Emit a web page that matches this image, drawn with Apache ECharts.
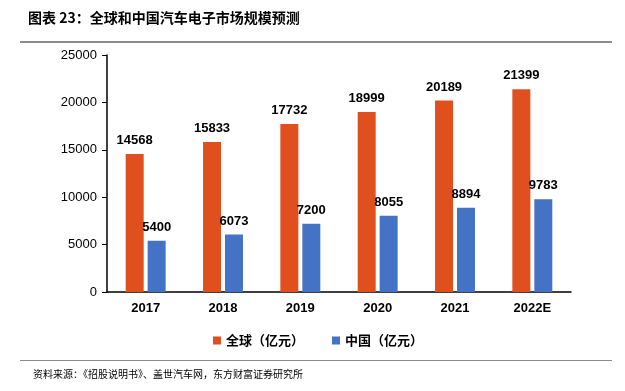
<!DOCTYPE html>
<html><head><meta charset="utf-8">
<script src="https://cdn.jsdelivr.net/npm/echarts@6/dist/echarts.min.js"></script>
<style>html,body{margin:0;padding:0;background:#fff}#c{width:625px;height:391px}</style>
</head><body><div id="c"></div>
<script>
const categories = ['2017','2018','2019','2020','2021','2022E'];
const globalVals = [14568,15833,17732,18999,20189,21399];
const chinaVals = [5400,6073,7200,8055,8894,9783];
const seriesNames = ['全球（亿元）','中国（亿元）'];
const titleText = '图表 23：全球和中国汽车电子市场规模预测';
const sourceText = '资料来源：《招股说明书》、盖世汽车网，东方财富证券研究所';

const chart = echarts.init(document.getElementById('c'), null, {renderer:'canvas'});
const cjk = '"Noto Sans CJK SC", sans-serif';
const lat = 'Arial, "Liberation Sans", sans-serif';
chart.setOption({
  animation:false,
  graphic:[
    {type:'text', left:28, top:11, style:{text:titleText, font:'bold 14px '+cjk, fill:'#000'}},
    {type:'rect', shape:{x:20,y:41,width:592,height:2}, style:{fill:'#8c8c8c'}},
    {type:'rect', shape:{x:20,y:360,width:592,height:1}, style:{fill:'#8c8c8c'}},
    {type:'text', left:33, top:369, style:{text:sourceText, font:'10px '+cjk, fill:'#000'}}
  ],
  legend:{
    data:seriesNames, top:329, left:208, itemWidth:8, itemHeight:8, itemGap:28,
    icon:'rect', textStyle:{fontFamily:cjk, fontSize:13, fontWeight:'bold', color:'#000'}
  },
  grid:{left:107, right:54, top:55, bottom:99, containLabel:false},
  xAxis:{
    type:'category', data:categories,
    axisLine:{lineStyle:{color:'#000', width:1.5}},
    axisTick:{show:false},
    axisLabel:{color:'#000', fontFamily:lat, fontSize:13, fontWeight:'bold', margin:10}
  },
  yAxis:{
    type:'value', min:0, max:25000, interval:5000,
    axisLine:{show:true, lineStyle:{color:'#000', width:1.5}},
    axisTick:{show:true, length:5, lineStyle:{color:'#000'}},
    splitLine:{show:false},
    axisLabel:{color:'#000', fontFamily:lat, fontSize:13, margin:10, formatter:function(v){return String(v);}}
  },
  series:[
    {name:seriesNames[0], type:'bar', data:globalVals, barWidth:18, barGap:'22%',
     itemStyle:{color:'#E0501F'},
     label:{show:true, position:'top', distance:7, color:'#000', fontFamily:lat, fontSize:13, fontWeight:'bold'}},
    {name:seriesNames[1], type:'bar', data:chinaVals, barWidth:18,
     itemStyle:{color:'#4472C4'},
     label:{show:true, position:'top', distance:7, color:'#000', fontFamily:lat, fontSize:13, fontWeight:'bold'}}
  ]
});
</script></body></html>
